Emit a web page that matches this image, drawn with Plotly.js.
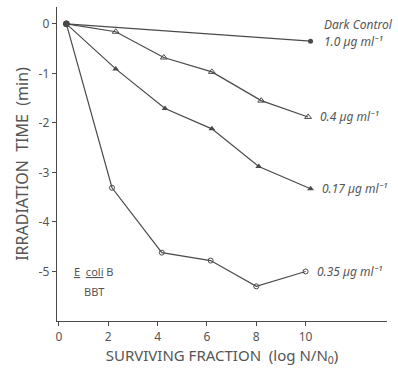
<!DOCTYPE html>
<html>
<head>
<meta charset="utf-8">
<script src="https://cdn.plot.ly/plotly-3.0.1.min.js"></script>
<style>html,body{margin:0;padding:0;background:#fff;}#chart{width:398px;height:377px;}</style>
</head>
<body>
<div id="chart"></div>
<script>
const seriesNames = ["Dark Control 1.0 µg ml⁻¹", "0.4 µg ml⁻¹", "0.17 µg ml⁻¹", "0.35 µg ml⁻¹"];
const darkX = [0.3, 10.2];
const darkY = [0, -0.35];
const c04X = [0.3, 2.3, 4.25, 6.2, 8.2, 10.1];
const c04Y = [0, -0.16, -0.68, -0.97, -1.55, -1.88];
const c017X = [0.3, 2.3, 4.3, 6.2, 8.1, 10.2];
const c017Y = [0, -0.91, -1.71, -2.12, -2.88, -3.33];
const c035X = [0.3, 2.15, 4.17, 6.15, 8.0, 10.0];
const c035Y = [0, -3.31, -4.62, -4.78, -5.3, -5.0];
const xTicks = [0, 2, 4, 6, 8, 10];
const xTickText = ["0", "2", "4", "6", "8", "10"];
const yTicks = [0, -1, -2, -3, -4, -5];
const yTickText = ["0", "-1", "-2", "-3", "-4", "-5"];

const ink = "#4a4a4a";
const fontFam = "'Noto Sans', 'Open Sans', sans-serif";

function syms(n, s) { const a = ["circle"]; for (let i = 1; i < n; i++) a.push(s); return a; }

const traces = [
  {x: darkX, y: darkY, name: seriesNames[0], mode: "lines+markers",
   line: {color: ink, width: 1.2},
   marker: {symbol: ["circle", "circle"], size: 5, color: ink}},
  {x: c04X, y: c04Y, name: seriesNames[1], mode: "lines+markers",
   line: {color: ink, width: 1.2},
   marker: {symbol: syms(c04X.length, "triangle-up-open"), size: 6, color: ink, line: {color: ink, width: 1}}},
  {x: c017X, y: c017Y, name: seriesNames[2], mode: "lines+markers",
   line: {color: ink, width: 1.2},
   marker: {symbol: syms(c017X.length, "triangle-up"), size: 6, color: ink}},
  {x: c035X, y: c035Y, name: seriesNames[3], mode: "lines+markers",
   line: {color: ink, width: 1.2},
   marker: {symbol: syms(c035X.length, "circle-open"), size: 5, color: ink, line: {color: ink, width: 1}}}
];

const labFont = {family: fontFam, size: 12, color: "#555"};
function ital(t) { return "<i>" + t + "</i>"; }

const layout = {
  width: 398, height: 377,
  margin: {l: 57, r: 11, t: 7, b: 56},
  paper_bgcolor: "#fff", plot_bgcolor: "#fff",
  showlegend: false,
  font: {family: fontFam, size: 12, color: "#555"},
  xaxis: {
    range: [-0.08, 13.3], tickvals: xTicks, ticktext: xTickText,
    showgrid: false, zeroline: false, showline: true, linecolor: ink, linewidth: 1.3,
    ticks: "outside", ticklen: 4, tickcolor: ink,
    tickfont: {family: fontFam, size: 12, color: "#555"},
    title: {text: "SURVIVING FRACTION  (log N/N<sub>0</sub>)", font: {family: fontFam, size: 15, color: "#555"}, standoff: 5}
  },
  yaxis: {
    range: [-6, 0.34], tickvals: yTicks, ticktext: yTickText,
    showgrid: false, zeroline: false, showline: true, linecolor: ink, linewidth: 1.3,
    ticks: "outside", ticklen: 4, tickcolor: ink,
    tickfont: {family: fontFam, size: 12, color: "#555"},
    title: {text: "IRRADIATION  TIME  (min)", font: {family: fontFam, size: 16, color: "#555"}, standoff: 6}
  },
  annotations: [
    {x: 10.65, y: -0.02, xref: "x", yref: "y", text: ital("Dark Control"), showarrow: false, xanchor: "left", font: labFont},
    {x: 10.65, y: -0.36, xref: "x", yref: "y", text: ital("1.0 µg ml⁻¹"), showarrow: false, xanchor: "left", font: labFont},
    {x: 10.5, y: -1.88, xref: "x", yref: "y", text: ital("0.4 µg ml⁻¹"), showarrow: false, xanchor: "left", font: labFont},
    {x: 10.6, y: -3.33, xref: "x", yref: "y", text: ital("0.17 µg ml⁻¹"), showarrow: false, xanchor: "left", font: labFont},
    {x: 10.4, y: -5.0, xref: "x", yref: "y", text: ital("0.35 µg ml⁻¹"), showarrow: false, xanchor: "left", font: labFont},
    {x: 1.4, y: -5.0, xref: "x", yref: "y", text: "<u>E</u>  <u>coli</u> B", showarrow: false, xanchor: "center", font: {family: fontFam, size: 11, color: "#555"}},
    {x: 1.4, y: -5.4, xref: "x", yref: "y", text: "BBT", showarrow: false, xanchor: "center", font: {family: fontFam, size: 11, color: "#555"}}
  ]
};

Plotly.newPlot("chart", traces, layout, {displayModeBar: false, staticPlot: true});
</script>
</body>
</html>
